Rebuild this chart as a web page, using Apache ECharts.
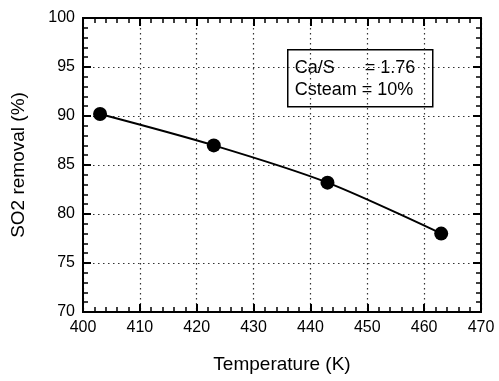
<!DOCTYPE html>
<html>
<head>
<meta charset="utf-8">
<script src="https://cdn.jsdelivr.net/npm/echarts@6/dist/echarts.min.js"></script>
<style>
  html, body { margin: 0; padding: 0; background: #fff; }
  #chart { width: 499px; height: 381px; }
</style>
</head>
<body>
<div id="chart"></div>
<script>
// data
var temperature = [403, 423, 443, 463];
var so2Removal = [90.2, 87.0, 83.2, 78.0];
var legendLines = ['Ca/S      = 1.76', 'Csteam = 10%'];

var font = 'Liberation Sans, Arial, sans-serif';
var points = temperature.map(function (t, i) { return [t, so2Removal[i]]; });

var chart = echarts.init(document.getElementById('chart'));
var box = { left: 83, right: 18, top: 18, bottom: 69 };

// main axes: labels, names, dotted grid (grid 0, carries the data)
function mainAxis(min, max, step, name, gap) {
  return {
    gridIndex: 0, type: 'value', min: min, max: max, interval: step,
    name: name, nameLocation: 'middle', nameGap: gap,
    nameTextStyle: { fontFamily: font, fontSize: 19, color: '#000' },
    axisLine: { show: true, onZero: false, lineStyle: { color: '#000', width: 2 } },
    axisTick: { show: false },
    axisLabel: { fontFamily: font, fontSize: 16, color: '#000', margin: 8 },
    splitLine: { show: true, lineStyle: { color: '#333', type: [1.5, 3.5], width: 1.2 } }
  };
}
// frame axes: only the line and inside ticks (grid 1, same box, no series)
function frameAxis(min, max, step, position) {
  return {
    gridIndex: 1, type: 'value', min: min, max: max, interval: step, position: position,
    axisLine: { show: true, onZero: false, lineStyle: { color: '#000', width: 2 } },
    axisTick: { show: true, inside: true, length: 8, lineStyle: { color: '#000', width: 2 } },
    minorTick: { show: true, splitNumber: 5, length: 5, lineStyle: { color: '#000', width: 1.5 } },
    axisLabel: { show: false },
    splitLine: { show: false }
  };
}

chart.setOption({
  animation: false,
  grid: [Object.assign({}, box), Object.assign({}, box)],
  xAxis: [
    mainAxis(400, 470, 10, 'Temperature (K)', 43),
    frameAxis(400, 470, 10, 'bottom'),
    frameAxis(400, 470, 10, 'top')
  ],
  yAxis: [
    mainAxis(70, 100, 5, 'SO2 removal (%)', 55),
    frameAxis(70, 100, 5, 'left'),
    frameAxis(70, 100, 5, 'right')
  ],
  series: [{
    type: 'line',
    xAxisIndex: 0, yAxisIndex: 0,
    data: points,
    smooth: 0.3,
    symbol: 'circle',
    symbolSize: 14,
    itemStyle: { color: '#000' },
    lineStyle: { color: '#000', width: 2 }
  }],
  graphic: [{
    type: 'group',
    left: 287, top: 49,
    children: [{
      type: 'rect',
      shape: { x: 0, y: 0, width: 145, height: 57 },
      style: { fill: '#fff', stroke: '#000', lineWidth: 1.5 }
    }, {
      type: 'text',
      x: 7, y: 7,
      style: {
        text: legendLines.join('\n'),
        font: '18px ' + font,
        fill: '#000',
        lineHeight: 22
      }
    }]
  }]
});
</script>
</body>
</html>
